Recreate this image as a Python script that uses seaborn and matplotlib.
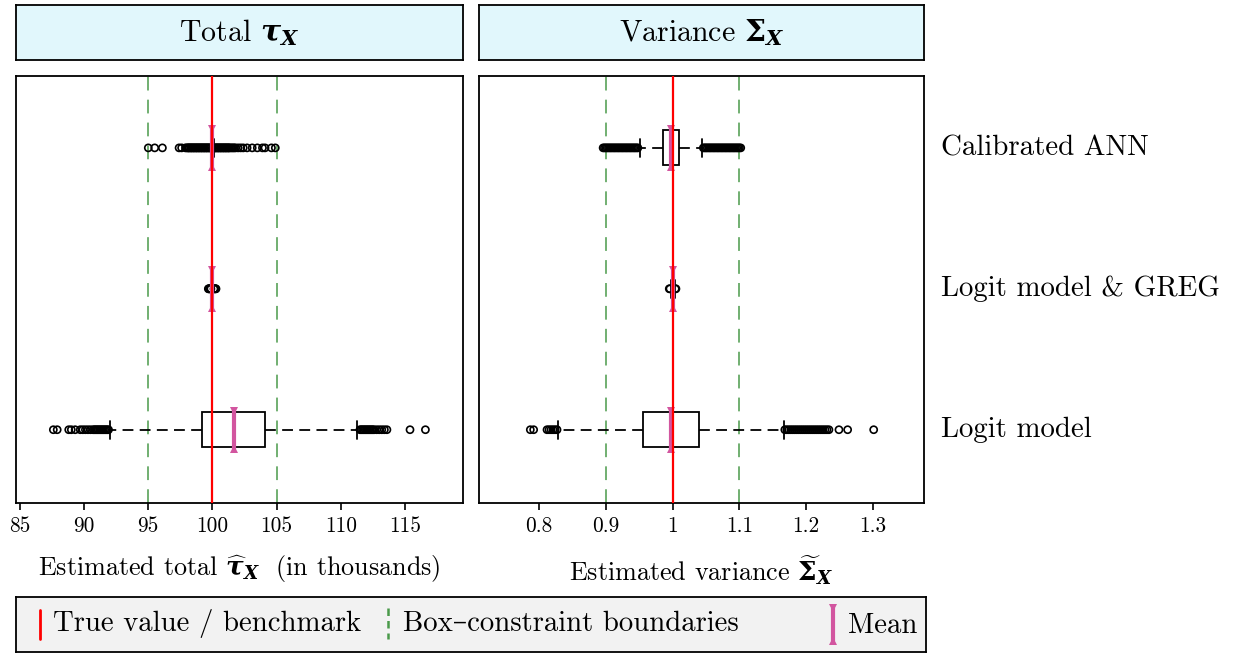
import matplotlib
matplotlib.use("Agg")
import matplotlib.pyplot as plt
import matplotlib.transforms as mtransforms
import numpy as np
import pandas as pd
import seaborn as sns

# ---------------- data ----------------
methods = ["Calibrated ANN", "Logit model & GREG", "Logit model"]

# Total (in thousands)
tot_q1 = [99.94, 99.97, 99.2]
tot_med = [100.0, 100.0, 101.6]
tot_q3 = [100.06, 100.03, 104.1]
tot_wlo = [99.88, 99.92, 92.0]
tot_whi = [100.12, 100.08, 111.3]
tot_mean = [100.0, 100.0, 101.7]
tot_fliers_cal = [95.0, 95.5, 96.1, 97.4, 97.6, 97.9, 98.0, 98.1, 98.15, 98.2, 98.3, 98.35,
                  98.4, 98.5, 98.55, 98.6, 98.7, 98.75, 98.8, 98.9, 98.95, 99.0, 99.1,
                  99.15, 99.2, 99.3, 99.35, 99.4, 99.5, 99.55, 99.6, 99.7, 99.75, 99.8,
                  100.2, 100.25, 100.3, 100.4, 100.45, 100.5, 100.6, 100.65, 100.7, 100.8,
                  100.85, 100.9, 101.0, 101.05, 101.1, 101.2, 101.25, 101.3, 101.4, 101.5,
                  101.6, 101.7, 101.8, 102.0, 102.2, 102.4, 102.7, 103.1, 103.5, 103.9,
                  104.1, 104.6, 104.9]
tot_fliers_greg = [99.68, 99.72, 99.76, 99.8, 99.84, 99.88,
                   100.12, 100.16, 100.2, 100.24, 100.28]
tot_fliers_logit = [87.6, 87.9, 88.8, 89.0, 89.3, 89.7, 89.9, 90.1, 90.3, 90.5, 90.7,
                    90.8, 90.9, 91.0, 91.1, 91.2, 91.3, 91.4, 91.5, 91.6, 91.7, 91.8, 91.9,
                    111.5, 111.6, 111.7, 111.8, 111.9, 112.0, 112.1, 112.2, 112.3, 112.4,
                    112.5, 112.6, 112.8, 113.0, 113.2, 113.4, 113.6, 115.4, 116.6]
tot_ticks = [85, 90, 95, 100, 105, 110, 115]
tot_ticklabels = ["85", "90", "95", "100", "105", "110", "115"]
tot_true = 100
tot_bounds = [95, 105]

# Variance
var_q1 = [0.985, 0.999, 0.955]
var_med = [0.996, 1.0, 0.996]
var_q3 = [1.010, 1.001, 1.039]
var_wlo = [0.951, 0.997, 0.829]
var_whi = [1.044, 1.003, 1.166]
var_mean = [0.997, 1.0, 0.997]
var_fliers_cal = [0.896, 0.898, 0.9, 0.902, 0.904, 0.906, 0.908, 0.91, 0.912, 0.914,
                  0.916, 0.918, 0.92, 0.922, 0.924, 0.926, 0.928, 0.93, 0.932, 0.934,
                  0.936, 0.938, 0.94, 0.942, 0.944, 0.946, 0.948,
                  1.046, 1.048, 1.05, 1.052, 1.054, 1.056, 1.058, 1.06, 1.062, 1.064,
                  1.066, 1.068, 1.07, 1.072, 1.074, 1.076, 1.078, 1.08, 1.082, 1.084,
                  1.086, 1.088, 1.09, 1.092, 1.094, 1.096, 1.098, 1.1, 1.102]
var_fliers_greg = [0.995, 0.996, 1.004, 1.005]
var_fliers_logit = [0.787, 0.792, 0.812, 0.815, 0.818, 0.821, 0.824, 0.827,
                    1.168, 1.171, 1.174, 1.177, 1.180, 1.183, 1.186, 1.189, 1.192, 1.195,
                    1.198, 1.201, 1.204, 1.207, 1.210, 1.213, 1.216, 1.219, 1.222, 1.225,
                    1.228, 1.231, 1.234, 1.249, 1.262, 1.301]
var_ticks = [0.8, 0.9, 1.0, 1.1, 1.2, 1.3]
var_ticklabels = ["0.8", "0.9", "1", "1.1", "1.2", "1.3"]
var_true = 1.0
var_bounds = [0.9, 1.1]

# ---------------- style ----------------
sns.set_theme(style="white")
plt.rcParams.update({
    "font.family": ["cmr10", "DejaVu Serif"],
    "mathtext.fontset": "custom",
    "mathtext.rm": "DejaVu Serif",
    "mathtext.it": "DejaVu Serif:italic",
    "mathtext.bf": "DejaVu Serif:bold",
    "mathtext.bfit": "DejaVu Serif:italic:bold",
    "axes.formatter.use_mathtext": True,
    "axes.unicode_minus": False,
    "text.color": "black",
    "axes.labelcolor": "black",
})

RED = "#FF0000"
GREEN = "#4A9A4A"
PINK = "#D2559F"

W, H = 1237, 653
fig = plt.figure(figsize=(W / 100, H / 100), dpi=100)


def fr(x0, y0, x1, y1):
    return [x0 / W, 1 - y1 / H, (x1 - x0) / W, (y1 - y0) / H]


ypos = list(range(len(methods)))


def panel(ax, q1, med, q3, wlo, whi, mean, fl_lists, xlim, ticks, ticklabels,
          truth, bounds):
    stats = []
    for i in range(len(methods)):
        stats.append(dict(med=med[i], q1=q1[i], q3=q3[i], whislo=wlo[i],
                          whishi=whi[i], fliers=[], label=methods[i]))
    for b in bounds:
        ax.axvline(b, color=GREEN, lw=1.1, ls=(0, (9, 6)), zorder=1)
    ax.bxp(stats, positions=ypos, orientation="horizontal", widths=0.25,
           capwidths=0.13, showfliers=False, patch_artist=True,
           boxprops=dict(facecolor="white", edgecolor="black", lw=1.3),
           whiskerprops=dict(color="black", lw=1.3, ls=(0, (6, 3.5))),
           capprops=dict(color="black", lw=1.3),
           medianprops=dict(color="black", lw=1.8),
           manage_ticks=False, zorder=2)
    rows = []
    for i, fl in enumerate(fl_lists):
        for v in fl:
            rows.append((v, ypos[i]))
    df = pd.DataFrame(rows, columns=["value", "pos"])
    sns.scatterplot(data=df, x="value", y="pos", ax=ax, marker="o", s=26,
                    facecolor="none", edgecolor="black", linewidth=1.2,
                    zorder=3, legend=False)
    for i, m in enumerate(mean):
        ax.plot([m, m], [ypos[i] - 0.135, ypos[i] + 0.135], color=PINK, lw=3,
                solid_capstyle="butt", zorder=4)
        ax.plot([m], [ypos[i] - 0.135], marker="v", ms=6, color=PINK, mew=0, zorder=4)
        ax.plot([m], [ypos[i] + 0.135], marker="^", ms=6, color=PINK, mew=0, zorder=4)
    ax.axvline(truth, color=RED, lw=1.6, zorder=5)
    ax.set_xlim(*xlim)
    ax.set_ylim(2.52, -0.51)
    ax.set_yticks([])
    ax.set_xticks(ticks)
    ax.set_xticklabels(ticklabels)
    ax.set_ylabel("")
    ax.grid(False)
    ax.tick_params(axis="x", bottom=True, length=5, width=1.2, labelsize=15.4,
                   pad=5, direction="out", color="black", labelcolor="black")
    for s in ax.spines.values():
        s.set_color("black")
        s.set_linewidth(1.3)


ax1 = fig.add_axes(fr(16, 76, 463, 503))
ax2 = fig.add_axes(fr(479, 76, 924, 503))

panel(ax1, tot_q1, tot_med, tot_q3, tot_wlo, tot_whi, tot_mean,
      [tot_fliers_cal, tot_fliers_greg, tot_fliers_logit],
      (84.69, 119.53), tot_ticks, tot_ticklabels, tot_true, tot_bounds)
panel(ax2, var_q1, var_med, var_q3, var_wlo, var_whi, var_mean,
      [var_fliers_cal, var_fliers_greg, var_fliers_logit],
      (0.7102, 1.3763), var_ticks, var_ticklabels, var_true, var_bounds)

ax1.set_xlabel(r"Estimated total $\widehat{\mathbfit{\tau}}_{\mathbfit{X}}$  (in thousands)",
               fontsize=18.8, labelpad=12, color="black")
ax2.set_xlabel(r"Estimated variance $\widetilde{\mathbf{\Sigma}}_{\mathbfit{X}}$",
               fontsize=18.8, labelpad=12, color="black")

trans = mtransforms.blended_transform_factory(ax2.transAxes, ax2.transData)
for i, lab in enumerate(methods):
    ax2.text(1.038, ypos[i], lab, transform=trans, ha="left", va="center",
             fontsize=20.8, color="black")

# strip headers
for (x0, x1), title in [((16, 463), r"Total $\mathbfit{\tau}_{\mathbfit{X}}$"),
                        ((479, 924), r"Variance $\mathbf{\Sigma}_{\mathbfit{X}}$")]:
    sax = fig.add_axes(fr(x0, 5, x1, 60))
    sax.set_facecolor("#E1F7FC")
    sax.set_xticks([])
    sax.set_yticks([])
    for s in sax.spines.values():
        s.set_color("black")
        s.set_linewidth(1.3)
    sax.text(0.5, 0.5, title, ha="center", va="center", fontsize=21.5,
             transform=sax.transAxes, color="black")

# legend box
lax = fig.add_axes(fr(16, 597, 926, 652))
lax.set_facecolor("#F2F2F2")
lax.set_xlim(0, 910)
lax.set_ylim(55, 0)
lax.set_xticks([])
lax.set_yticks([])
for s in lax.spines.values():
    s.set_color("black")
    s.set_linewidth(1.3)
lax.plot([24, 24], [13, 42], color=RED, lw=2)
lax.text(37, 27, "True value / benchmark", va="center", ha="left", fontsize=20.7)
lax.plot([372, 372], [11, 42], color=GREEN, lw=1.8, ls=(0, (3, 2)))
lax.text(387, 27, "Box–constraint boundaries", va="center", ha="left", fontsize=20.7)
lax.plot([817, 817], [11, 44], color=PINK, lw=3, solid_capstyle="butt")
lax.plot([817], [11], marker="v", ms=6, color=PINK, mew=0)
lax.plot([817], [44], marker="^", ms=6, color=PINK, mew=0)
lax.text(832, 29, "Mean", va="center", ha="left", fontsize=20.7)

fig.savefig("out.png", dpi=100)
